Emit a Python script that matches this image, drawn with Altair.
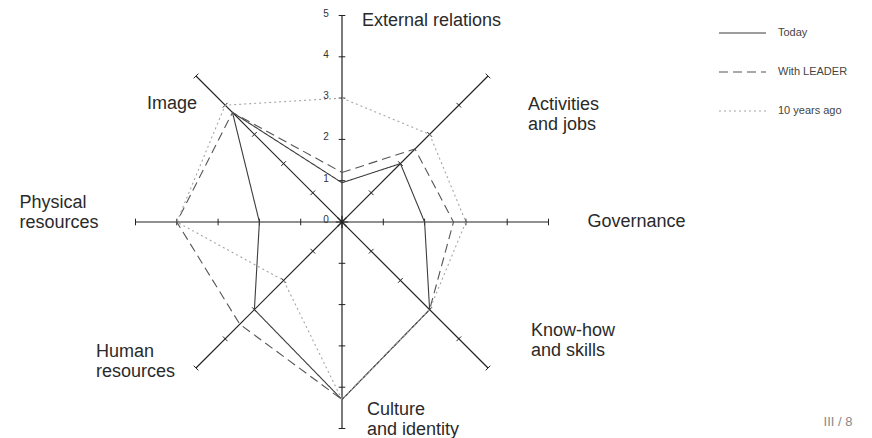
import math
import altair as alt
import pandas as pd

# ---- data ----
axes = ["External relations", "Activities\nand jobs", "Governance", "Know-how\nand skills",
        "Culture\nand identity", "Human\nresources", "Physical\nresources", "Image"]
series_names = ["Today", "With LEADER", "10 years ago"]
today = [0.95, 2.0, 2.0, 3.0, 4.3, 3.0, 2.0, 3.75]
with_leader = [1.2, 2.5, 2.7, 3.0, 4.3, 3.5, 4.0, 3.75]
ten_years_ago = [3.0, 3.0, 3.0, 3.0, 4.3, 2.0, 4.0, 4.0]
tick_values = [0, 1, 2, 3, 4, 5]
scale_max = 5
page_label = "III / 8"

# ---- tables built from the arrays ----
values_by_series = dict(zip(series_names, [today, with_leader, ten_years_ago]))
rows = []
for s in series_names:
    for i, (a, v) in enumerate(zip(axes, values_by_series[s])):
        rows.append({"series": s, "axis": a, "idx": i, "value": v})
series_df = pd.DataFrame(rows)
axes_df = pd.DataFrame({"axis": axes, "idx": list(range(len(axes)))})
ticks_df = pd.DataFrame([{"idx": i, "k": k} for i in range(len(axes)) for k in tick_values if k > 0])
ticklabel_df = pd.DataFrame({"k": tick_values, "label": [str(t) for t in tick_values]})

n = len(axes)
W, H = 856, 430
cx, cy, unit = 334, 214, 41.3
xdom = [-cx / unit, (W - cx) / unit]
ydom = [-(H - cy) / unit, cy / unit]
xs = alt.Scale(domain=xdom, nice=False, zero=False)
ys = alt.Scale(domain=ydom, nice=False, zero=False)
ang = f"datum.idx * 2 * PI / {n}"
FONT = "Liberation Sans"
AX = "#222222"

spokes = alt.Chart(axes_df).transform_calculate(
    a=ang,
    x1="-0.15 * sin(datum.a)", y1="-0.15 * cos(datum.a)",
    x2=f"{scale_max} * sin(datum.a)", y2=f"{scale_max} * cos(datum.a)",
).mark_rule(color=AX, strokeWidth=1.2).encode(
    x=alt.X("x1:Q", scale=xs, axis=None), y=alt.Y("y1:Q", scale=ys, axis=None),
    x2="x2:Q", y2="y2:Q",
)

e = 0.08
ticks = alt.Chart(ticks_df).transform_calculate(
    a=ang,
    x1=f"datum.k * sin(datum.a) - {e} * cos(datum.a)",
    y1=f"datum.k * cos(datum.a) + {e} * sin(datum.a)",
    x2=f"datum.k * sin(datum.a) + {e} * cos(datum.a)",
    y2=f"datum.k * cos(datum.a) - {e} * sin(datum.a)",
).mark_rule(color=AX, strokeWidth=1).encode(
    x=alt.X("x1:Q", scale=xs, axis=None), y=alt.Y("y1:Q", scale=ys, axis=None),
    x2="x2:Q", y2="y2:Q",
)

leg = alt.Legend(orient="none", legendX=710, legendY=0.5, title=None, symbolType="stroke",
                 symbolSize=2209, symbolStrokeWidth=1.2, labelFontSize=11, labelFont=FONT,
                 labelColor="#444444", labelOffset=11, rowPadding=9, padding=0, offset=0)

lines = alt.Chart(series_df).transform_calculate(
    a=ang, x="datum.value * sin(datum.a)", y="datum.value * cos(datum.a)"
).mark_line(interpolate="linear-closed", strokeWidth=1.1).encode(
    x=alt.X("x:Q", scale=xs, axis=None),
    y=alt.Y("y:Q", scale=ys, axis=None),
    order=alt.Order("idx:Q"),
    color=alt.Color("series:N", sort=series_names,
                    scale=alt.Scale(domain=series_names, range=["#3c3c3c", "#555555", "#a5a5a5"]),
                    legend=leg),
    strokeDash=alt.StrokeDash("series:N", sort=series_names,
                              scale=alt.Scale(domain=series_names, range=[[1, 0], [9, 5], [2, 3]]),
                              legend=leg),
)

ticklabels = alt.Chart(ticklabel_df).transform_calculate(x0="0").mark_text(
    font=FONT, fontSize=10, color="#333333", dx=-16, dy=-2, align="center", baseline="middle"
).encode(
    x=alt.X("x0:Q", scale=xs, axis=None), y=alt.Y("k:Q", scale=ys, axis=None), text="label:N"
)

label_style = [
    dict(align="left", dx=20, dy=5),
    dict(align="left", dx=40, dy=29),
    dict(align="left", dx=39, dy=0),
    dict(align="left", dx=43, dy=-37),
    dict(align="left", dx=25, dy=-19),
    dict(align="left", dx=-100, dy=-16),
    dict(align="left", dx=-116, dy=-19),
    dict(align="left", dx=-49, dy=28),
]
label_layers = []
for i, st in enumerate(label_style):
    label_layers.append(
        alt.Chart(axes_df).transform_filter(f"datum.idx == {i}").transform_calculate(
            a=ang, x=f"{scale_max} * sin(datum.a)", y=f"{scale_max} * cos(datum.a)"
        ).mark_text(font=FONT, fontSize=18, color="#2a2a2a", baseline="middle",
                    lineBreak="\n", lineHeight=20, **st).encode(
            x=alt.X("x:Q", scale=xs, axis=None), y=alt.Y("y:Q", scale=ys, axis=None),
            text="axis:N",
        )
    )

page = alt.Chart(pd.DataFrame({"t": [page_label]})).mark_text(
    font=FONT, fontSize=13, color="#888888", align="center", baseline="middle"
).encode(text="t:N", x=alt.value(830), y=alt.value(414))

chart = alt.layer(spokes, ticks, lines, ticklabels, *label_layers, page).properties(
    width=W, height=H, padding=0, autosize=alt.AutoSizeParams(type="none"),
    background="white",
).configure_view(strokeWidth=0)

chart.save("out.html", embed_options={"renderer": "svg", "actions": False})
